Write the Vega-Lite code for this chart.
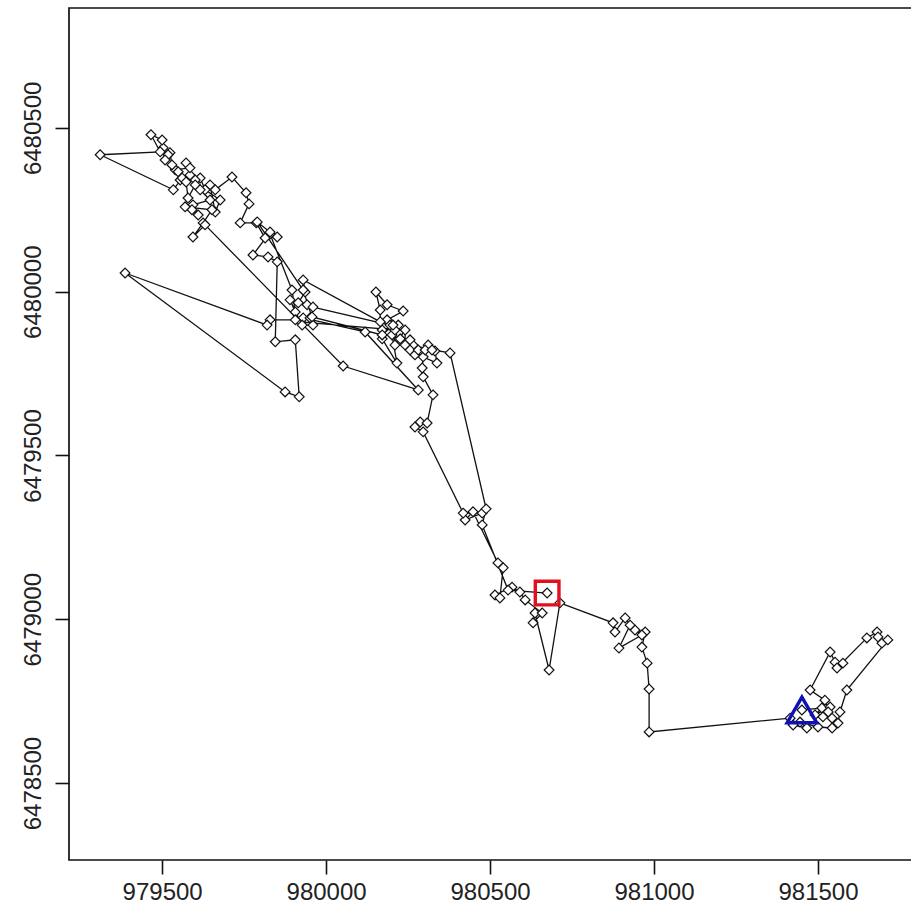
{
  "$schema": "https://vega.github.io/schema/vega-lite/v6.json",
  "width": 850,
  "height": 852,
  "autosize": {"type": "none"},
  "padding": {"left": 69, "top": 8, "right": 0, "bottom": 62},
  "background": "white",
  "config": {
    "view": {"stroke": "#111111", "strokeWidth": 1.7},
    "axis": {"grid": false, "domain": false, "tickColor": "#111111", "tickWidth": 1.6, "tickSize": 14, "labelFont": "Liberation Sans", "labelFontSize": 24, "labelColor": "#222222", "title": null}
  },
  "data": {"values": [
    {"i":1,"x":981451,"y":6478723,"role":"start"},
    {"i":2,"x":981512,"y":6478729,"role":""},
    {"i":3,"x":981491,"y":6478708,"role":""},
    {"i":4,"x":981537,"y":6478732,"role":""},
    {"i":5,"x":981531,"y":6478717,"role":""},
    {"i":6,"x":981515,"y":6478702,"role":""},
    {"i":7,"x":981543,"y":6478698,"role":""},
    {"i":8,"x":981521,"y":6478753,"role":""},
    {"i":9,"x":981476,"y":6478784,"role":""},
    {"i":10,"x":981537,"y":6478900,"role":""},
    {"i":11,"x":981552,"y":6478869,"role":""},
    {"i":12,"x":981576,"y":6478866,"role":""},
    {"i":13,"x":981558,"y":6478851,"role":""},
    {"i":14,"x":981649,"y":6478943,"role":""},
    {"i":15,"x":981680,"y":6478961,"role":""},
    {"i":16,"x":981683,"y":6478946,"role":""},
    {"i":17,"x":981695,"y":6478927,"role":""},
    {"i":18,"x":981713,"y":6478937,"role":""},
    {"i":19,"x":981588,"y":6478784,"role":""},
    {"i":20,"x":981567,"y":6478717,"role":""},
    {"i":21,"x":981561,"y":6478683,"role":""},
    {"i":22,"x":981543,"y":6478668,"role":""},
    {"i":23,"x":981500,"y":6478671,"role":""},
    {"i":24,"x":981445,"y":6478686,"role":""},
    {"i":25,"x":981466,"y":6478668,"role":""},
    {"i":26,"x":981424,"y":6478677,"role":""},
    {"i":27,"x":981415,"y":6478698,"role":""},
    {"i":28,"x":980985,"y":6478656,"role":""},
    {"i":29,"x":980985,"y":6478787,"role":""},
    {"i":30,"x":980979,"y":6478866,"role":""},
    {"i":31,"x":980963,"y":6478915,"role":""},
    {"i":32,"x":980973,"y":6478961,"role":""},
    {"i":33,"x":980942,"y":6478967,"role":""},
    {"i":34,"x":980963,"y":6478952,"role":""},
    {"i":35,"x":980893,"y":6478912,"role":""},
    {"i":36,"x":980927,"y":6478982,"role":""},
    {"i":37,"x":980912,"y":6479004,"role":""},
    {"i":38,"x":980881,"y":6478961,"role":""},
    {"i":39,"x":980875,"y":6478989,"role":""},
    {"i":40,"x":980713,"y":6479050,"role":""},
    {"i":41,"x":980680,"y":6478845,"role":""},
    {"i":42,"x":980637,"y":6479019,"role":""},
    {"i":43,"x":980631,"y":6478989,"role":""},
    {"i":44,"x":980659,"y":6479019,"role":""},
    {"i":45,"x":980607,"y":6479059,"role":""},
    {"i":46,"x":980591,"y":6479083,"role":""},
    {"i":47,"x":980567,"y":6479098,"role":""},
    {"i":48,"x":980515,"y":6479074,"role":""},
    {"i":49,"x":980530,"y":6479065,"role":""},
    {"i":50,"x":980540,"y":6479157,"role":""},
    {"i":51,"x":980524,"y":6479172,"role":""},
    {"i":52,"x":980448,"y":6479328,"role":""},
    {"i":53,"x":980424,"y":6479303,"role":""},
    {"i":54,"x":980476,"y":6479324,"role":""},
    {"i":55,"x":980418,"y":6479324,"role":""},
    {"i":56,"x":980296,"y":6479572,"role":""},
    {"i":57,"x":980271,"y":6479587,"role":""},
    {"i":58,"x":980287,"y":6479602,"role":""},
    {"i":59,"x":980308,"y":6479599,"role":""},
    {"i":60,"x":980326,"y":6479685,"role":""},
    {"i":61,"x":980296,"y":6479740,"role":""},
    {"i":62,"x":980293,"y":6479767,"role":""},
    {"i":63,"x":980296,"y":6479801,"role":""},
    {"i":64,"x":980338,"y":6479782,"role":""},
    {"i":65,"x":980332,"y":6479819,"role":""},
    {"i":66,"x":980265,"y":6479837,"role":""},
    {"i":67,"x":980226,"y":6479856,"role":""},
    {"i":68,"x":980201,"y":6479868,"role":""},
    {"i":69,"x":980216,"y":6479782,"role":""},
    {"i":70,"x":980171,"y":6479856,"role":""},
    {"i":71,"x":980171,"y":6479883,"role":""},
    {"i":72,"x":980220,"y":6479898,"role":""},
    {"i":73,"x":980186,"y":6479914,"role":""},
    {"i":74,"x":980235,"y":6479941,"role":""},
    {"i":75,"x":980186,"y":6479960,"role":""},
    {"i":76,"x":980152,"y":6479999,"role":""},
    {"i":77,"x":980165,"y":6479944,"role":""},
    {"i":78,"x":980165,"y":6479908,"role":""},
    {"i":79,"x":979930,"y":6480036,"role":""},
    {"i":80,"x":979936,"y":6479999,"role":""},
    {"i":81,"x":979915,"y":6479966,"role":""},
    {"i":82,"x":979942,"y":6479960,"role":""},
    {"i":83,"x":979960,"y":6479953,"role":""},
    {"i":84,"x":980195,"y":6479898,"role":""},
    {"i":85,"x":980210,"y":6479883,"role":""},
    {"i":86,"x":979921,"y":6479908,"role":""},
    {"i":87,"x":979890,"y":6479975,"role":""},
    {"i":88,"x":979906,"y":6479938,"role":""},
    {"i":89,"x":979896,"y":6480005,"role":""},
    {"i":90,"x":979829,"y":6480176,"role":""},
    {"i":91,"x":979851,"y":6480167,"role":""},
    {"i":92,"x":979814,"y":6480164,"role":""},
    {"i":93,"x":979787,"y":6480210,"role":""},
    {"i":94,"x":979738,"y":6480210,"role":""},
    {"i":95,"x":979765,"y":6480268,"role":""},
    {"i":96,"x":979756,"y":6480302,"role":""},
    {"i":97,"x":979713,"y":6480350,"role":""},
    {"i":98,"x":979662,"y":6480311,"role":""},
    {"i":99,"x":979646,"y":6480326,"role":""},
    {"i":100,"x":979662,"y":6480243,"role":""},
    {"i":101,"x":979677,"y":6480280,"role":""},
    {"i":102,"x":979631,"y":6480311,"role":""},
    {"i":103,"x":979616,"y":6480347,"role":""},
    {"i":104,"x":979585,"y":6480356,"role":""},
    {"i":105,"x":979601,"y":6480341,"role":""},
    {"i":106,"x":979573,"y":6480393,"role":""},
    {"i":107,"x":979585,"y":6480378,"role":""},
    {"i":108,"x":979540,"y":6480372,"role":""},
    {"i":109,"x":979555,"y":6480341,"role":""},
    {"i":110,"x":979549,"y":6480366,"role":""},
    {"i":111,"x":979530,"y":6480387,"role":""},
    {"i":112,"x":979524,"y":6480424,"role":""},
    {"i":113,"x":979518,"y":6480418,"role":""},
    {"i":114,"x":979509,"y":6480402,"role":""},
    {"i":115,"x":979503,"y":6480439,"role":""},
    {"i":116,"x":979500,"y":6480463,"role":""},
    {"i":117,"x":979466,"y":6480479,"role":""},
    {"i":118,"x":979494,"y":6480427,"role":""},
    {"i":119,"x":979311,"y":6480418,"role":""},
    {"i":120,"x":979534,"y":6480311,"role":""},
    {"i":121,"x":979561,"y":6480347,"role":""},
    {"i":122,"x":979573,"y":6480335,"role":""},
    {"i":123,"x":979579,"y":6480286,"role":""},
    {"i":124,"x":979601,"y":6480326,"role":""},
    {"i":125,"x":979616,"y":6480311,"role":""},
    {"i":126,"x":979646,"y":6480280,"role":""},
    {"i":127,"x":979594,"y":6480265,"role":""},
    {"i":128,"x":979610,"y":6480234,"role":""},
    {"i":129,"x":979591,"y":6480250,"role":""},
    {"i":130,"x":979570,"y":6480259,"role":""},
    {"i":131,"x":979652,"y":6480250,"role":""},
    {"i":132,"x":979625,"y":6480210,"role":""},
    {"i":133,"x":979594,"y":6480167,"role":""},
    {"i":134,"x":979631,"y":6480204,"role":""},
    {"i":135,"x":980052,"y":6479773,"role":""},
    {"i":136,"x":980281,"y":6479700,"role":""},
    {"i":137,"x":980119,"y":6479877,"role":""},
    {"i":138,"x":979930,"y":6479920,"role":""},
    {"i":139,"x":979951,"y":6479920,"role":""},
    {"i":140,"x":979960,"y":6479898,"role":""},
    {"i":141,"x":979927,"y":6479898,"role":""},
    {"i":142,"x":979906,"y":6479914,"role":""},
    {"i":143,"x":979829,"y":6479914,"role":""},
    {"i":144,"x":979820,"y":6479898,"role":""},
    {"i":145,"x":979387,"y":6480057,"role":""},
    {"i":146,"x":979875,"y":6479694,"role":""},
    {"i":147,"x":979918,"y":6479679,"role":""},
    {"i":148,"x":979906,"y":6479853,"role":""},
    {"i":149,"x":979845,"y":6479847,"role":""},
    {"i":150,"x":979851,"y":6480091,"role":""},
    {"i":151,"x":979823,"y":6480106,"role":""},
    {"i":152,"x":979777,"y":6480112,"role":""},
    {"i":153,"x":979829,"y":6480182,"role":""},
    {"i":154,"x":979790,"y":6480213,"role":""},
    {"i":155,"x":979930,"y":6480005,"role":""},
    {"i":156,"x":979957,"y":6479923,"role":""},
    {"i":157,"x":980171,"y":6479868,"role":""},
    {"i":158,"x":980204,"y":6479898,"role":""},
    {"i":159,"x":980210,"y":6479837,"role":""},
    {"i":160,"x":980241,"y":6479883,"role":""},
    {"i":161,"x":980241,"y":6479837,"role":""},
    {"i":162,"x":980256,"y":6479853,"role":""},
    {"i":163,"x":980256,"y":6479822,"role":""},
    {"i":164,"x":980271,"y":6479807,"role":""},
    {"i":165,"x":980281,"y":6479822,"role":""},
    {"i":166,"x":980311,"y":6479837,"role":""},
    {"i":167,"x":980302,"y":6479822,"role":""},
    {"i":168,"x":980323,"y":6479822,"role":""},
    {"i":169,"x":980378,"y":6479813,"role":""},
    {"i":170,"x":980488,"y":6479337,"role":""},
    {"i":171,"x":980476,"y":6479288,"role":""},
    {"i":172,"x":980555,"y":6479089,"role":""},
    {"i":173,"x":980674,"y":6479080,"role":"end"}
  ]},
  "encoding": {
    "x": {"field": "x", "type": "quantitative", "scale": {"domain": [979216, 981808], "nice": false, "zero": false}, "axis": {"values": [979500, 980000, 980500, 981000, 981500], "format": "d", "labelPadding": 6}},
    "y": {"field": "y", "type": "quantitative", "scale": {"domain": [6478265, 6480866], "nice": false, "zero": false}, "axis": {"values": [6478500, 6479000, 6479500, 6480000, 6480500], "format": "d", "labelAngle": 270, "labelAlign": "center", "labelBaseline": "bottom", "labelPadding": 10}}
  },
  "layer": [
    {"mark": {"type": "line", "color": "#111111", "strokeWidth": 1.3, "clip": true}, "encoding": {"order": {"field": "i", "type": "quantitative"}}},
    {"mark": {"type": "point", "shape": "diamond", "filled": true, "fill": "white", "stroke": "#111111", "strokeWidth": 1.2, "size": 95, "opacity": 1, "clip": true}},
    {"transform": [{"filter": "datum.role == 'start'"}], "mark": {"type": "point", "shape": "triangle-up", "filled": false, "stroke": "#1010b8", "strokeWidth": 3.4, "size": 880, "opacity": 1}},
    {"transform": [{"filter": "datum.role == 'end'"}], "mark": {"type": "point", "shape": "square", "filled": false, "stroke": "#e01020", "strokeWidth": 3.4, "size": 560, "opacity": 1}}
  ]
}
